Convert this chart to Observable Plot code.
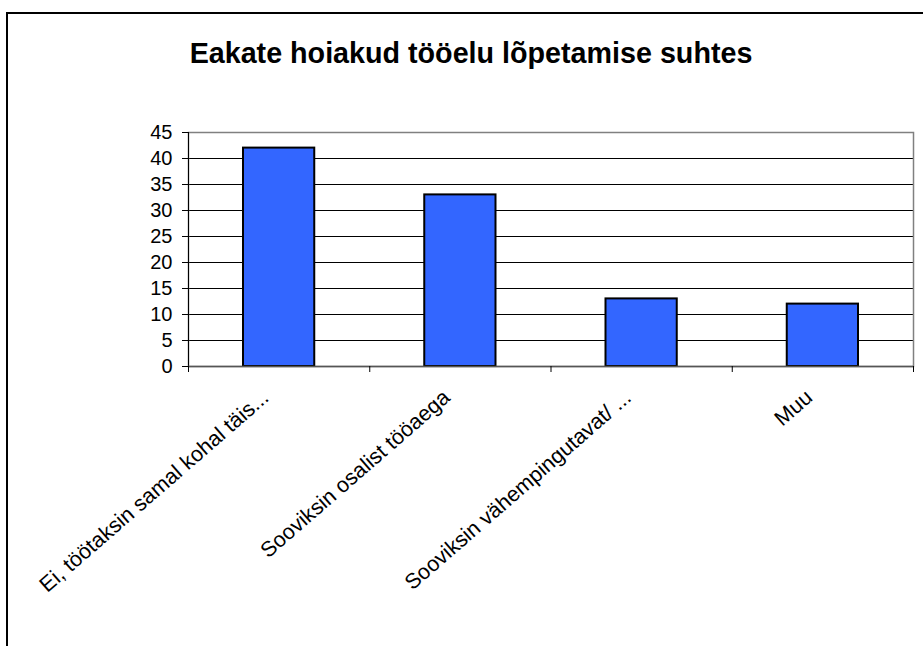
<!DOCTYPE html>
<html>
<head>
<meta charset="utf-8">
<script src="https://cdn.jsdelivr.net/npm/d3@7"></script>
<script src="https://cdn.jsdelivr.net/npm/@observablehq/plot@0.6"></script>
<style>
  html, body { margin: 0; padding: 0; background: #fff; overflow: hidden; width: 923px; height: 646px; }
  #wrap { position: relative; width: 923px; height: 646px; }
  #frame { position: absolute; left: 6px; top: 12px; width: 1000px; height: 1000px; border: 2px solid #000; box-sizing: border-box; }
  #title { position: absolute; left: 0; top: 39px; width: 942px; text-align: center;
           font: bold 28.7px "Liberation Sans", Arial, sans-serif; line-height: 28px; color: #000; }
  #chart { position: absolute; left: 0; top: 0; }
</style>
</head>
<body>
<div id="wrap">
  <div id="frame"></div>
  <div id="chart"></div>
  <div id="title">Eakate hoiakud tööelu lõpetamise suhtes</div>
</div>
<script>
const categories = [
  "Ei, töötaksin samal kohal täis...",
  "Sooviksin osalist tööaega",
  "Sooviksin vähempingutavat/ ...",
  "Muu"
];
const values = [42, 33, 13, 12];
const yTicks = [0, 5, 10, 15, 20, 25, 30, 35, 40, 45];

const data = categories.map((c, i) => ({i, cat: c, value: values[i]}));
const boundaries = d3.range(categories.length + 1);

const chart = Plot.plot({
  width: 923,
  height: 646,
  marginLeft: 188,
  marginRight: 10,
  marginTop: 132,
  marginBottom: 280,
  x: {type: "linear", domain: [0, categories.length], axis: null},
  y: {domain: [0, 45], axis: null},
  style: {fontFamily: "'Liberation Sans', Arial, sans-serif", background: "transparent", color: "#000"},
  marks: [
    Plot.ruleY(yTicks.filter(d => d > 0 && d < 45), {stroke: "#000", strokeWidth: 1, strokeOpacity: 1}),
    Plot.frame({stroke: "#808080", strokeWidth: 1.5}),
    Plot.rectY(data, {x1: "i", x2: d => d.i + 1, y: "value", fill: "#3366FF", stroke: "#000", strokeWidth: 2, insetLeft: 55, insetRight: 55}),
    Plot.ruleX([0], {stroke: "#000", strokeWidth: 1}),
    Plot.ruleY([0], {stroke: "#555", strokeWidth: 1.5}),
    Plot.axisY({ticks: yTicks, label: null, tickSize: 6, tickPadding: 10, fontSize: 20, stroke: "#000", strokeOpacity: 1}),
    Plot.axisX({ticks: boundaries, label: null, tickFormat: () => "", tickSize: 6, stroke: "#000", strokeOpacity: 1}),
    Plot.text(data, {x: d => d.i + 0.5, y: () => 0, text: "cat", rotate: -41, textAnchor: "end", lineAnchor: "bottom", dx: -9, dy: 33, fontSize: 21.5, fill: "#000"})
  ]
});
document.getElementById("chart").appendChild(chart);
</script>
</body>
</html>
